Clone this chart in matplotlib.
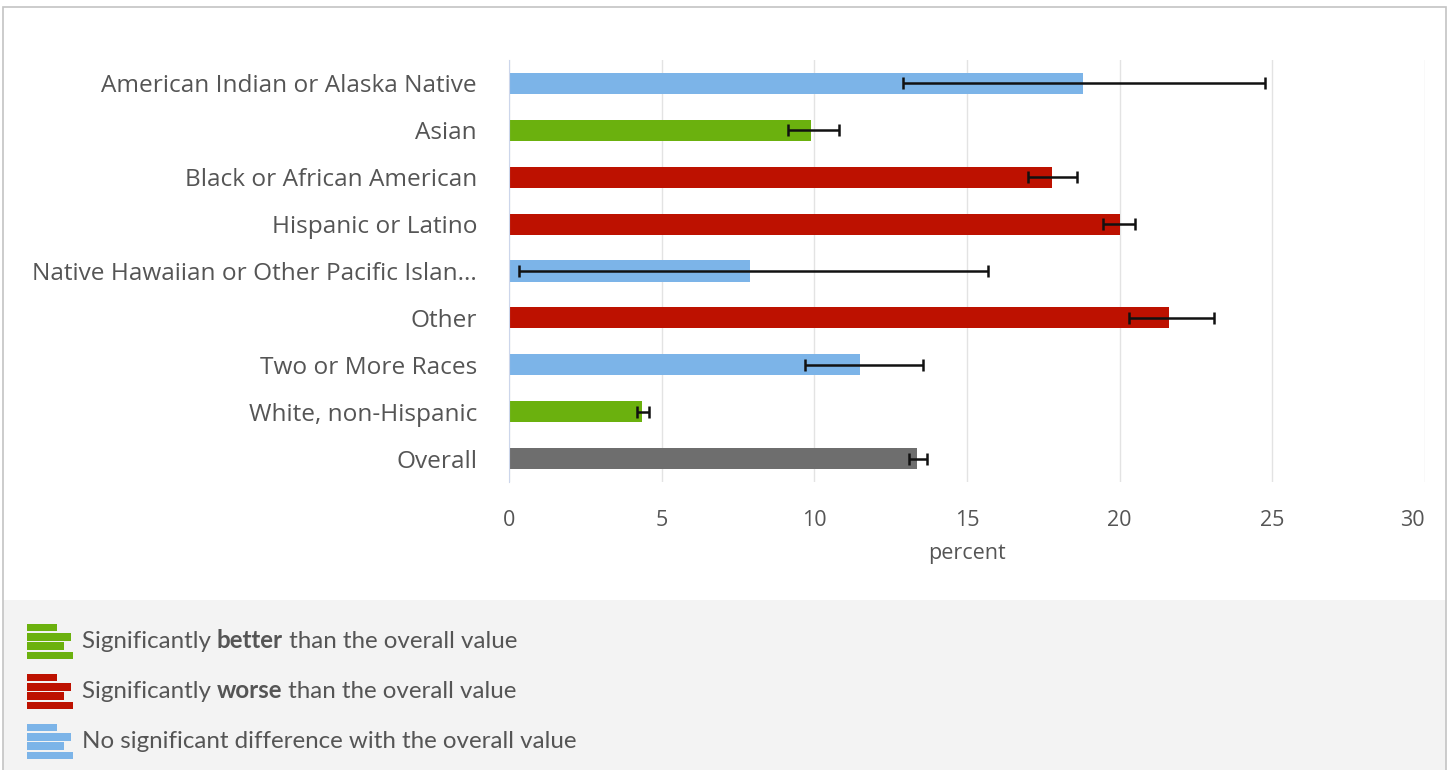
import matplotlib.pyplot as plt
import matplotlib.patches as mpatches
import matplotlib.transforms as mtransforms
import numpy as np

categories = ['American Indian or Alaska Native', 'Asian', 'Black or African American',
              'Hispanic or Latino', 'Native Hawaiian or Other Pacific Islan...', 'Other',
              'Two or More Races', 'White, non-Hispanic', 'Overall']
values = [18.8, 9.9, 17.8, 20.0, 7.9, 21.6, 11.5, 4.35, 13.35]
lower = [12.9, 9.15, 17.0, 19.45, 0.33, 20.3, 9.7, 4.2, 13.1]
upper = [24.75, 10.8, 18.6, 20.5, 15.7, 23.1, 13.55, 4.6, 13.7]
status = ['none', 'better', 'worse', 'worse', 'none', 'worse', 'none', 'better', 'overall']
x_ticks = [0, 5, 10, 15, 20, 25, 30]

palette = {'better': '#6bb10e', 'worse': '#bd1100', 'none': '#7cb4e8', 'overall': '#6e6e6e'}
legend_rows = [('better', 'Significantly ', 'better', ' than the overall value'),
               ('worse', 'Significantly ', 'worse', ' than the overall value'),
               ('none', 'No significant difference with the overall value', '', '')]

W, H = 1449, 770
fig = plt.figure(figsize=(W / 100, H / 100), dpi=100)
plt.rcParams['font.family'] = ['Open Sans', 'DejaVu Sans']

# outer frame and grey legend band
fig.patches.append(mpatches.Rectangle((3 / W, 0), 1443 / W, 170 / H, transform=fig.transFigure,
                                      facecolor='#f3f3f3', edgecolor='none', zorder=-2))
fig.patches.append(mpatches.Rectangle((3 / W, -0.01), 1443 / W, 1 - 7 / H + 0.01,
                                      transform=fig.transFigure, facecolor='none',
                                      edgecolor='#c4c4c4', lw=1.2, zorder=-1))

ax = fig.add_axes([509 / W, 1 - 482 / H, 916 / W, 422 / H])
y = np.arange(len(categories))
colors = [palette[s] for s in status]
vals = np.array(values)
xerr = [vals - np.array(lower), np.array(upper) - vals]
ax.barh(y, vals, height=0.45, color=colors, zorder=2)
ax.errorbar(vals, y, xerr=xerr, fmt='none', ecolor='#111111', elinewidth=1.8,
            capsize=4, capthick=1.8, zorder=3)

ax.set_ylim(len(categories) - 0.5, -0.5)
ax.set_xlim(0, 30)
ax.set_xticks(x_ticks)
ax.set_yticks(y)
ax.set_yticklabels(categories, fontsize=17.6, color='#555555')
ax.tick_params(axis='y', length=0, pad=23)
ax.tick_params(axis='x', length=0, pad=20, labelsize=15.5, labelcolor='#555555')
ax.grid(axis='x', color='#e3e3e3', lw=1, zorder=0)
for side in ['top', 'right', 'bottom']:
    ax.spines[side].set_visible(False)
ax.spines['left'].set_color('#ccd6eb')
ax.set_xlabel('percent', fontsize=15.5, color='#555555', labelpad=9)

# last tick label pulled inside like the original
last = ax.get_xticklabels()[-1]
last.set_transform(last.get_transform() + mtransforms.ScaledTranslation(-13 / 100, 0, fig.dpi_scale_trans))

# legend
renderer = fig.canvas.get_renderer()
row_y = [641, 691, 741]
for (key, pre, bold, post), ry in zip(legend_rows, row_y):
    lax = fig.add_axes([27 / W, 1 - (ry + 19) / H, 46 / W, 37 / H])
    lax.barh([0, 1, 2, 3], [0.65, 0.95, 0.8, 1.0], height=0.8, color=palette[key])
    lax.set_xlim(0, 1)
    lax.set_ylim(3.5, -0.5)
    lax.axis('off')
    xpos = 82 / W
    for part, weight in [(pre, 'normal'), (bold, 'bold'), (post, 'normal')]:
        if not part:
            continue
        t = fig.text(xpos, 1 - ry / H, part, fontsize=17.4, color='#555555',
                     fontweight=weight, va='center', ha='left', family=['Lato', 'DejaVu Sans'])
        bb = t.get_window_extent(renderer=renderer)
        xpos += bb.width / W

fig.savefig('out.png', dpi=100)
